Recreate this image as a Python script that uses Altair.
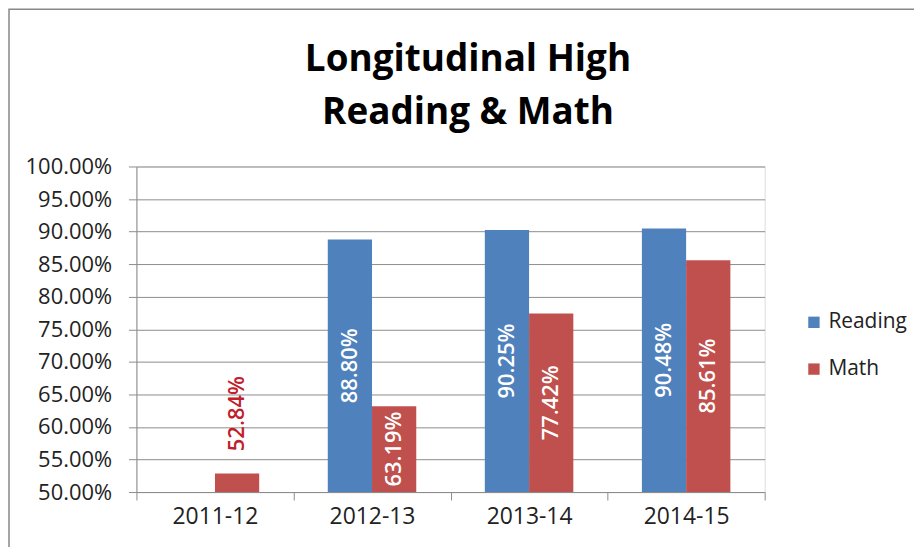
import altair as alt
import pandas as pd

years = ["2011-12", "2012-13", "2013-14", "2014-15"]
subjects = ["Reading", "Math"]
reading = [None, 0.8880, 0.9025, 0.9048]
math = [0.5284, 0.6319, 0.7742, 0.8561]
yticks = [0.50, 0.55, 0.60, 0.65, 0.70, 0.75, 0.80, 0.85, 0.90, 0.95, 1.00]
colors = ["#4F81BD", "#C0504D"]
title_lines = ["Longitudinal High", "Reading & Math"]

rows = []
for i, yr in enumerate(years):
    for subj, vals in (("Reading", reading), ("Math", math)):
        if vals[i] is not None:
            rows.append({"year": yr, "subject": subj, "value": vals[i]})
df = pd.DataFrame(rows)

FONT = "Open Sans"
GRAY = "#8c8c8c"

x_axis = alt.Axis(title=None, labelAngle=0, tickBand="extent",
                  domainColor=GRAY, tickColor=GRAY, tickSize=8,
                  labelPadding=6, labelFont=FONT, labelFontSize=23,
                  labelColor="#222222", grid=False)
y_axis = alt.Axis(title=None, format=".2%", values=yticks,
                  labelOverlap=False,
                  domainColor=GRAY, tickColor=GRAY, tickSize=8,
                  gridColor=GRAY, gridWidth=1, labelPadding=17,
                  labelFont=FONT, labelFontSize=22, labelColor="#222222")
x_scale = alt.Scale(paddingInner=0, paddingOuter=0)
xo_scale = alt.Scale(domain=subjects, paddingInner=0, paddingOuter=0.775)
y_scale = alt.Scale(domain=[0.5, 1.0], zero=False, nice=False)

bars = alt.Chart(df).mark_bar(clip=True).encode(
    x=alt.X("year:N", sort=years, scale=x_scale, axis=x_axis),
    xOffset=alt.XOffset("subject:N", sort=subjects, scale=xo_scale),
    y=alt.Y("value:Q", scale=y_scale, axis=y_axis),
    color=alt.Color("subject:N", sort=subjects,
                    scale=alt.Scale(domain=subjects, range=colors),
                    legend=alt.Legend(title=None, orient="none", legendX=670, legendY=146,
                                      symbolType="square", symbolSize=130,
                                      symbolStrokeWidth=0, labelFont=FONT,
                                      labelFontSize=21, labelColor="#222222",
                                      rowPadding=25, labelOffset=4)),
)

labels = alt.Chart(df).transform_calculate(
    label="format(datum.value, '.2%')",
    ly="datum.value < 0.55 ? datum.value + 0.092 : (0.5 + datum.value) / 2",
    inside="datum.value < 0.55 ? 0 : 1",
).mark_text(angle=270, align="center", baseline="middle", font=FONT,
            fontSize=22, fontWeight=600).encode(
    x=alt.X("year:N", sort=years, scale=x_scale, axis=x_axis),
    xOffset=alt.XOffset("subject:N", sort=subjects, scale=xo_scale),
    y=alt.Y("ly:Q", scale=y_scale, axis=y_axis),
    text="label:N",
    color=alt.condition("datum.inside == 1", alt.value("white"), alt.value("#C0202A")),
)

frame_data = alt.Data(values=[{}])

border = alt.Chart(frame_data).mark_rect(
    fill=None, stroke="#888888", strokeWidth=1.5, clip=False
).encode(
    x=alt.value(-128), x2=alt.value(820),
    y=alt.value(-158), y2=alt.value(420),
)

title = alt.Chart(frame_data).mark_text(
    font=FONT, fontSize=37, fontWeight="bold", color="#000000",
    align="center", baseline="alphabetic", lineHeight=53, lineBreak="\n",
).encode(
    x=alt.value(333), y=alt.value(-96), text=alt.value("\n".join(title_lines)),
)

chart = alt.layer(border, title, bars, labels).properties(
    width=631, height=327,
    autosize=alt.AutoSizeParams(type="none"),
    padding={"left": 129, "top": 158, "right": 150, "bottom": 54},
).configure_view(strokeWidth=0).configure(background="white")

chart.save("out.html", embed_options={"renderer": "svg", "actions": False})
